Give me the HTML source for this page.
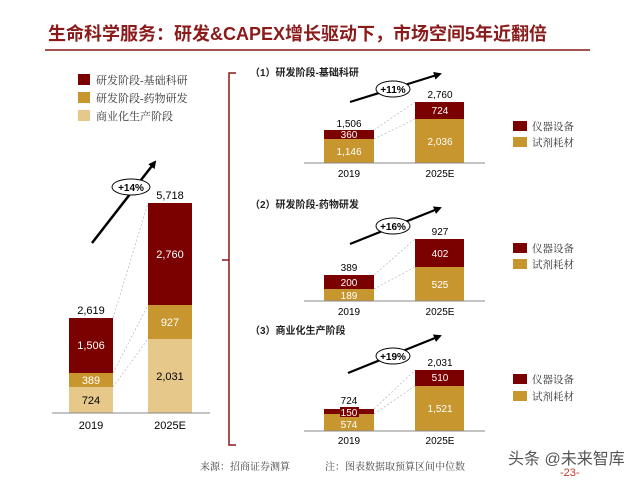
<!DOCTYPE html>
<html><head><meta charset="utf-8"><style>
body{margin:0;background:#fff;width:640px;height:480px;overflow:hidden}
svg{display:block}
text{font-family:"Liberation Sans","Noto Sans CJK SC",sans-serif}
.s{font-family:"Liberation Serif","Noto Serif CJK SC",serif}
</style></head><body>
<svg width="640" height="480" viewBox="0 0 640 480" xmlns="http://www.w3.org/2000/svg">
<defs><marker id="ah" markerWidth="8" markerHeight="8" refX="6" refY="4" orient="auto" markerUnits="userSpaceOnUse"><path d="M0,0 L8,4 L0,8 z" fill="#000"/></marker></defs>
<text x="48" y="40" font-size="18" font-weight="bold" fill="#8B1A1A">生命科学服务：研发&amp;CAPEX增长驱动下，市场空间5年近翻倍</text>
<line x1="45" y1="50" x2="590" y2="50" stroke="#8B1A1A" stroke-width="1.5"/>
<!-- left legend -->
<rect x="78" y="74" width="12" height="11" fill="#7B0000"/><text class="s" x="96" y="84" font-size="11" fill="#333">研发阶段-基础科研</text>
<rect x="78" y="92" width="12" height="11" fill="#C8962E"/><text class="s" x="96" y="102" font-size="11" fill="#333">研发阶段-药物研发</text>
<rect x="78" y="110" width="12" height="11" fill="#E6C98A"/><text class="s" x="96" y="120" font-size="11" fill="#333">商业化生产阶段</text>
<!-- left chart -->
<line x1="92" y1="243" x2="155" y2="162" stroke="#000" stroke-width="2.5" marker-end="url(#ah)"/>
<ellipse cx="131" cy="187" rx="19" ry="8" fill="#fff" stroke="#000" stroke-width="1"/>
<text x="131" y="191" font-size="10" font-weight="bold" text-anchor="middle">+14%</text>
<rect x="69" y="318" width="44" height="55" fill="#7B0000"/>
<rect x="69" y="373" width="44" height="14" fill="#C8962E"/>
<rect x="69" y="387" width="44" height="26" fill="#E6C98A"/>
<rect x="148" y="203" width="44" height="102" fill="#7B0000"/>
<rect x="148" y="305" width="44" height="34" fill="#C8962E"/>
<rect x="148" y="339" width="44" height="74" fill="#E6C98A"/>
<g stroke="#aaa" stroke-width="0.6" stroke-dasharray="2,2"><line x1="113" y1="318" x2="148" y2="203"/><line x1="113" y1="373" x2="148" y2="305"/><line x1="113" y1="387" x2="148" y2="339"/></g>
<line x1="52" y1="413" x2="210" y2="413" stroke="#888" stroke-width="1"/>
<g font-size="11" text-anchor="middle">
<text x="91" y="314">2,619</text><text x="91" y="349" fill="#fff">1,506</text><text x="91" y="384" fill="#fff">389</text><text x="91" y="404">724</text>
<text x="170" y="199">5,718</text><text x="170" y="258" fill="#fff">2,760</text><text x="170" y="326" fill="#fff">927</text><text x="170" y="380">2,031</text>
<text x="91" y="429">2019</text><text x="170" y="429">2025E</text></g>
<!-- bracket -->
<path d="M236,73 L229,73 L229,445 L236,445 M229,260 L222,260" fill="none" stroke="#8B1A1A" stroke-width="1.5"/>
<!-- panel 1 -->
<text x="250" y="76" font-size="10" font-weight="bold" fill="#222">（1）研发阶段-基础科研</text>
<line x1="350" y1="102" x2="440" y2="74" stroke="#000" stroke-width="2.2" marker-end="url(#ah)"/>
<ellipse cx="393" cy="89" rx="17" ry="8" fill="#fff" stroke="#000"/><text x="393" y="93" font-size="10" font-weight="bold" text-anchor="middle">+11%</text>
<rect x="324" y="130" width="50" height="9" fill="#7B0000"/><rect x="324" y="139" width="50" height="24" fill="#C8962E"/>
<rect x="415" y="102" width="49" height="17" fill="#7B0000"/><rect x="415" y="119" width="49" height="44" fill="#C8962E"/>
<g stroke="#aaa" stroke-width="0.6" stroke-dasharray="2,2"><line x1="374" y1="130" x2="415" y2="102"/><line x1="374" y1="139" x2="415" y2="119"/></g>
<line x1="304" y1="163" x2="485" y2="163" stroke="#888"/>
<g font-size="10" text-anchor="middle"><text x="349" y="127">1,506</text><text x="349" y="138" fill="#fff">360</text><text x="349" y="155" fill="#fff">1,146</text>
<text x="440" y="98">2,760</text><text x="440" y="114" fill="#fff">724</text><text x="440" y="145" fill="#fff">2,036</text>
<text x="349" y="177">2019</text><text x="440" y="177">2025E</text></g>
<rect x="513" y="121" width="14" height="10" fill="#7B0000"/><text class="s" x="532" y="130" font-size="10.5" fill="#333">仪器设备</text>
<rect x="513" y="137" width="14" height="10" fill="#C8962E"/><text class="s" x="532" y="146" font-size="10.5" fill="#333">试剂耗材</text>
<!-- panel 2 -->
<text x="250" y="208" font-size="10" font-weight="bold" fill="#222">（2）研发阶段-药物研发</text>
<line x1="350" y1="244" x2="440" y2="208" stroke="#000" stroke-width="2.2" marker-end="url(#ah)"/>
<ellipse cx="393" cy="226" rx="17" ry="8" fill="#fff" stroke="#000"/><text x="393" y="230" font-size="10" font-weight="bold" text-anchor="middle">+16%</text>
<rect x="324" y="275" width="50" height="14" fill="#7B0000"/><rect x="324" y="289" width="50" height="12" fill="#C8962E"/>
<rect x="415" y="239" width="49" height="28" fill="#7B0000"/><rect x="415" y="267" width="49" height="34" fill="#C8962E"/>
<g stroke="#aaa" stroke-width="0.6" stroke-dasharray="2,2"><line x1="374" y1="275" x2="415" y2="239"/><line x1="374" y1="289" x2="415" y2="267"/></g>
<line x1="304" y1="301" x2="485" y2="301" stroke="#888"/>
<g font-size="10" text-anchor="middle"><text x="349" y="271">389</text><text x="349" y="286" fill="#fff">200</text><text x="349" y="299" fill="#fff">189</text>
<text x="440" y="235">927</text><text x="440" y="257" fill="#fff">402</text><text x="440" y="288" fill="#fff">525</text>
<text x="349" y="315">2019</text><text x="440" y="315">2025E</text></g>
<rect x="513" y="243" width="14" height="10" fill="#7B0000"/><text class="s" x="532" y="252" font-size="10.5" fill="#333">仪器设备</text>
<rect x="513" y="259" width="14" height="10" fill="#C8962E"/><text class="s" x="532" y="268" font-size="10.5" fill="#333">试剂耗材</text>
<!-- panel 3 -->
<text x="250" y="334" font-size="10" font-weight="bold" fill="#222">（3）商业化生产阶段</text>
<line x1="348" y1="373" x2="440" y2="336" stroke="#000" stroke-width="2.2" marker-end="url(#ah)"/>
<ellipse cx="393" cy="356" rx="17" ry="8" fill="#fff" stroke="#000"/><text x="393" y="360" font-size="10" font-weight="bold" text-anchor="middle">+19%</text>
<rect x="324" y="409" width="50" height="5" fill="#7B0000"/><rect x="324" y="414" width="50" height="17" fill="#C8962E"/>
<rect x="415" y="370" width="49" height="16" fill="#7B0000"/><rect x="415" y="386" width="49" height="45" fill="#C8962E"/>
<rect x="340" y="407" width="19" height="10" fill="#7B0000"/>
<g stroke="#aaa" stroke-width="0.6" stroke-dasharray="2,2"><line x1="374" y1="409" x2="415" y2="370"/><line x1="374" y1="414" x2="415" y2="386"/></g>
<line x1="304" y1="431" x2="485" y2="431" stroke="#888"/>
<g font-size="10" text-anchor="middle"><text x="349" y="404">724</text><text x="349" y="416" fill="#fff">150</text><text x="349" y="428" fill="#fff">574</text>
<text x="440" y="366">2,031</text><text x="440" y="381" fill="#fff">510</text><text x="440" y="412" fill="#fff">1,521</text>
<text x="349" y="444">2019</text><text x="440" y="444">2025E</text></g>
<rect x="513" y="374" width="14" height="10" fill="#7B0000"/><text class="s" x="532" y="383" font-size="10.5" fill="#333">仪器设备</text>
<rect x="513" y="391" width="14" height="10" fill="#C8962E"/><text class="s" x="532" y="400" font-size="10.5" fill="#333">试剂耗材</text>
<!-- footer -->
<text class="s" x="200" y="470" font-size="10" fill="#444">来源：招商证券测算</text>
<text class="s" x="325" y="470" font-size="10" fill="#444">注：图表数据取预算区间中位数</text>
<text x="508" y="464" font-size="16" fill="#555">头条 @未来智库</text>
<text x="560" y="476" font-size="11" fill="#C0392B">-23-</text>
</svg>
</body></html>
